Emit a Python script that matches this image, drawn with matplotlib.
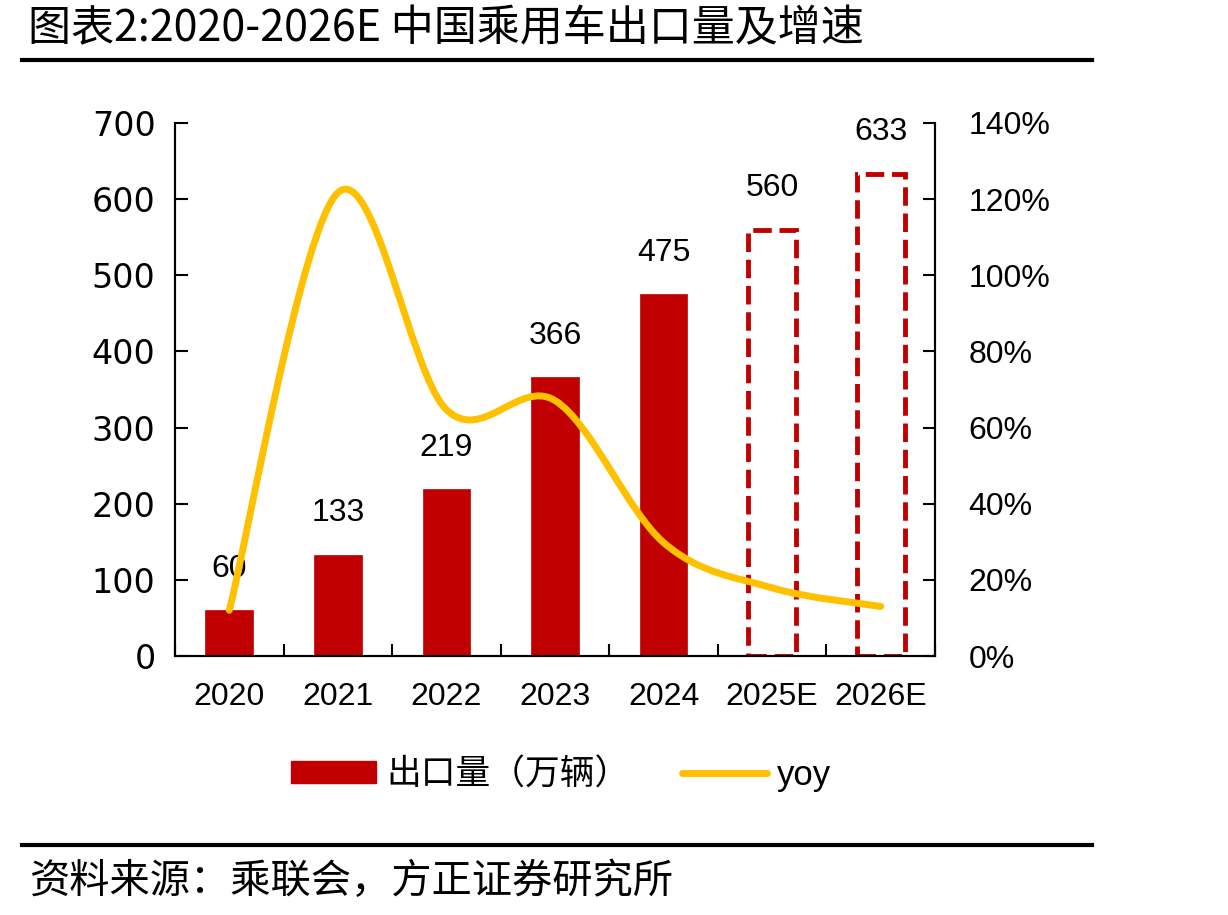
import matplotlib
matplotlib.use('Agg')
import matplotlib.pyplot as plt
from matplotlib.path import Path
from matplotlib.patches import PathPatch, Patch
from matplotlib.lines import Line2D
from matplotlib.ticker import FuncFormatter, FixedLocator, NullFormatter
import numpy as np

years = ['2020', '2021', '2022', '2023', '2024', '2025E', '2026E']
exports = [60, 133, 219, 366, 475, 560, 633]
yoy = [12, 121.7, 64.7, 67.1, 29.8, 17.9, 13.0]
estimated = [False, False, False, False, False, True, True]
bar_label = '出口量（万辆）'
line_label = 'yoy'
title = '图表2:2020-2026E 中国乘用车出口量及增速'
source = '资料来源：乘联会，方正证券研究所'

RED = '#C00000'
YELLOW = '#FFC000'

plt.rcParams['font.family'] = ['Liberation Sans', 'Noto Sans CJK SC']
W, H = 1228, 915
fig = plt.figure(figsize=(W / 100, H / 100), dpi=100)
ax = fig.add_axes([175 / W, 1 - 656 / H, 760 / W, 533 / H])
ax2 = ax.twinx()

x = np.arange(len(years))
bw = 0.44
xs_solid = [xi for xi, e in zip(x, estimated) if not e]
vs_solid = [v for v, e in zip(exports, estimated) if not e]
xs_est = [xi for xi, e in zip(x, estimated) if e]
vs_est = [v for v, e in zip(exports, estimated) if e]
ax.bar(xs_solid, vs_solid, width=bw, color=RED, edgecolor=RED, linewidth=0.5, zorder=2)
ax.bar(xs_est, vs_est, width=bw, fill=False, edgecolor=RED, linewidth=3.5,
       linestyle=(0, (3.8, 1.6)), zorder=2)

for xi, v in zip(x, exports):
    ax.annotate(str(v), (xi, v), xytext=(0, 30), textcoords='offset points',
                ha='center', va='center', fontsize=23)

ax.set_xlim(-0.5, len(years) - 0.5)
ax.set_ylim(0, 700)
ax.set_yticks(range(0, 701, 100))
ax2.set_ylim(0, 140)
ax2.set_yticks(range(0, 141, 20))
ax2.yaxis.set_major_formatter(FuncFormatter(lambda v, p: f'{int(v)}%'))

# x ticks: marks at category boundaries, labels at centers
ax.xaxis.set_major_locator(FixedLocator(np.arange(-0.5, len(years), 1.0)))
ax.xaxis.set_major_formatter(NullFormatter())
ax.xaxis.set_minor_locator(FixedLocator(x))
ax.set_xticklabels(years, minor=True)
ax.tick_params(axis='x', which='major', direction='in', length=9, width=1.5)
ax.tick_params(axis='x', which='minor', length=0, labelsize=23, pad=19)
ax.tick_params(axis='y', direction='in', length=9, width=1.5, labelsize=24, pad=14)
for lab in ax.get_yticklabels():
    lab.set_family(['DejaVu Sans'])
ax2.tick_params(axis='y', direction='in', length=9, width=1.5, labelsize=23, pad=24)

for a in (ax, ax2):
    a.spines['top'].set_visible(False)
    for s in ('left', 'right', 'bottom'):
        a.spines[s].set_linewidth(1.5)
        a.spines[s].set_color('black')

# smoothed yoy line (Bezier through points)
pts = np.column_stack([x, yoy]).astype(float)
n = len(pts)
verts = [pts[0]]
codes = [Path.MOVETO]
for i in range(n - 1):
    p_prev = pts[i - 1] if i > 0 else pts[i]
    p0 = pts[i]
    p1 = pts[i + 1]
    p_next = pts[i + 2] if i + 2 < n else pts[i + 1]
    c1 = p0 + (p1 - p_prev) / 6.0
    c2 = p1 - (p_next - p0) / 6.0
    verts += [c1, c2, p1]
    codes += [Path.CURVE4] * 3
ax2.add_patch(PathPatch(Path(verts, codes), fill=False, edgecolor=YELLOW,
                        linewidth=5, capstyle='round', joinstyle='round', zorder=3))

handles = [Patch(facecolor=RED, edgecolor=RED),
           Line2D([], [], color=YELLOW, linewidth=5, solid_capstyle='round')]
fig.legend(handles, [bar_label, line_label], loc='center',
           bbox_to_anchor=(561 / W, 1 - 775 / H), ncol=2, frameon=False,
           fontsize=25, handlelength=2.45, handleheight=0.6, handletextpad=0.3,
           columnspacing=1.5)

fig.text(28 / W, 1 - 29 / H, title, fontsize=31, va='center', ha='left',
         family=['Noto Sans CJK SC'])
fig.add_artist(Line2D([22 / W, 1092 / W], [1 - 60 / H] * 2, transform=fig.transFigure,
                      color='black', linewidth=3))
fig.add_artist(Line2D([22 / W, 1092 / W], [1 - 845 / H] * 2, transform=fig.transFigure,
                      color='black', linewidth=3))
fig.text(30 / W, 1 - 881 / H, source, fontsize=29, va='center', ha='left',
         family=['Noto Sans CJK SC'])

fig.savefig('out.png', dpi=100)
